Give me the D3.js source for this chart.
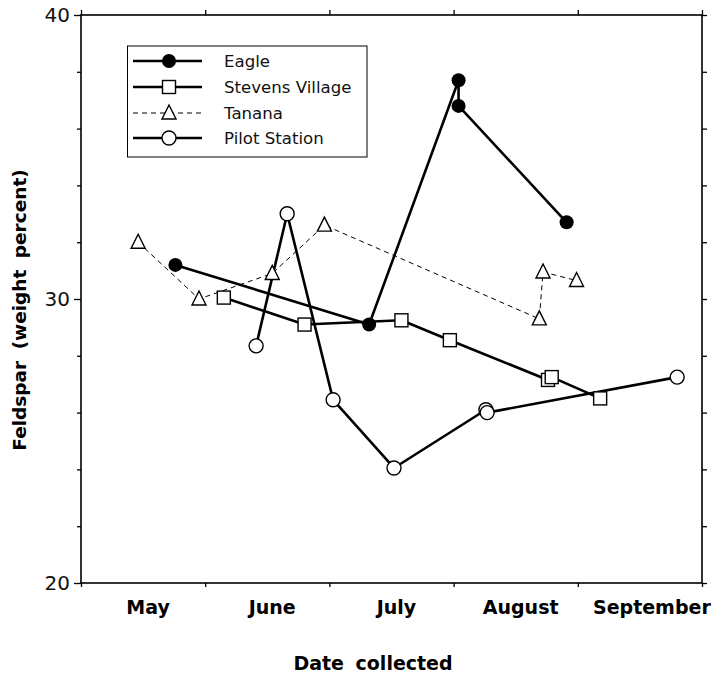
<!DOCTYPE html>
<html><head><meta charset="utf-8">
<script src="https://cdn.jsdelivr.net/npm/d3@7"></script>
<style>body{margin:0;background:#fff}svg{display:block}</style>
</head><body>
<script>
// x values: months elapsed since 1 May (0 = 1 May, 1 = 1 June, ...)
const monthLabels = ["May", "June", "July", "August", "September"];
const monthTicks = [0, 1, 2, 3, 4, 5];
const yTicks = [20, 30, 40];
const yMinorTicks = [22, 24, 26, 28, 32, 34, 36, 38];

const eagleX = [0.76, 2.32, 3.04, 3.04, 3.91];
const eagleY = [31.2, 29.1, 37.7, 36.8, 32.7];

const stevensX = [1.15, 1.80, 2.58, 2.97, 3.76, 3.79, 4.18];
const stevensY = [30.05, 29.1, 29.25, 28.55, 27.15, 27.25, 26.5];

const tananaX = [0.46, 0.95, 1.54, 1.96, 3.69, 3.72, 3.99];
const tananaY = [32.0, 30.0, 30.9, 32.6, 29.3, 30.95, 30.65];

const pilotX = [1.41, 1.66, 2.03, 2.52, 3.26, 3.27, 4.80];
const pilotY = [28.35, 33.0, 26.45, 24.05, 26.1, 26.0, 27.25];

const seriesNames = ["Eagle", "Stevens Village", "Tanana", "Pilot Station"];

const W = 715, H = 681;
const L = 81, R = 702, T = 15, B = 583;
const svg = d3.select("body").append("svg").attr("width", W).attr("height", H);

const x = d3.scaleLinear().domain([0, 5]).range([L, R]);
const y = d3.scaleLinear().domain([20, 40]).range([B, T]);

const font = "'DejaVu Sans', Verdana, sans-serif";

// frame axes
const axL = svg.append("g").attr("transform", `translate(${L},0)`)
  .call(d3.axisLeft(y).tickValues(yTicks).tickSize(7).tickFormat(d3.format("d")).tickPadding(4));
svg.append("g").attr("transform", `translate(${L},0)`)
  .call(d3.axisLeft(y).tickValues(yMinorTicks).tickSize(4).tickFormat(""));
svg.append("g").attr("transform", `translate(${R},0)`)
  .call(d3.axisRight(y).tickValues(yTicks.concat(yMinorTicks)).tickSize(5).tickFormat(""));
svg.append("g").attr("transform", `translate(0,${B})`)
  .call(d3.axisBottom(x).tickValues(monthTicks).tickSize(4).tickFormat(""));
svg.append("g").attr("transform", `translate(0,${T})`)
  .call(d3.axisTop(x).tickValues(monthTicks).tickSize(5).tickFormat(""));
svg.selectAll(".domain").remove();
svg.selectAll(".tick line").attr("stroke", "#000").attr("stroke-width", 1.3);
axL.selectAll("text").attr("font-family", font).attr("font-size", 20).attr("fill", "#111");

svg.append("rect").attr("x", L).attr("y", T).attr("width", R - L).attr("height", B - T)
  .attr("fill", "none").attr("stroke", "#000").attr("stroke-width", 1.6);

// month labels between ticks
svg.append("g").selectAll("text").data(monthLabels).join("text")
  .attr("x", (d, i) => x(i + 0.54) + (i === 4 ? 7 : 0))
  .attr("y", 614)
  .attr("text-anchor", "middle")
  .attr("font-family", font).attr("font-weight", "bold").attr("font-size", 19)
  .text(d => d);

svg.append("text").attr("x", 373).attr("y", 670).attr("text-anchor", "middle")
  .attr("font-family", font).attr("font-weight", "bold").attr("font-size", 19)
  .attr("word-spacing", 5)
  .text("Date collected");

svg.append("text").attr("transform", "translate(26,310) rotate(-90)").attr("text-anchor", "middle")
  .attr("font-family", font).attr("font-weight", "bold").attr("font-size", 18.5)
  .attr("word-spacing", 5)
  .text("Feldspar (weight percent)");

const series = [
  {xs: eagleX, ys: eagleY, marker: "circleFill", dash: null, w: 2.6},
  {xs: stevensX, ys: stevensY, marker: "square", dash: null, w: 2.6},
  {xs: tananaX, ys: tananaY, marker: "triangle", dash: "5,4", w: 1},
  {xs: pilotX, ys: pilotY, marker: "circle", dash: null, w: 2.6}
];

const line = d3.line().x(d => x(d[0])).y(d => y(d[1]));

function drawMarker(g, type, cx, cy) {
  if (type === "circleFill") {
    g.append("circle").attr("cx", cx).attr("cy", cy).attr("r", 7).attr("fill", "#000");
  } else if (type === "circle") {
    g.append("circle").attr("cx", cx).attr("cy", cy).attr("r", 7)
      .attr("fill", "#fff").attr("stroke", "#000").attr("stroke-width", 1.4);
  } else if (type === "square") {
    g.append("rect").attr("x", cx - 6.5).attr("y", cy - 6.5).attr("width", 13).attr("height", 13)
      .attr("fill", "#fff").attr("stroke", "#000").attr("stroke-width", 1.4);
  } else if (type === "triangle") {
    const s = 7;
    g.append("path").attr("d", `M${cx},${cy - s - 1}L${cx + s},${cy + s - 1}L${cx - s},${cy + s - 1}Z`)
      .attr("fill", "#fff").attr("stroke", "#000").attr("stroke-width", 1.4);
  }
}

const gl = svg.append("g");
series.forEach(s => {
  const pts = s.xs.map((v, i) => [v, s.ys[i]]);
  gl.append("path").attr("d", line(pts)).attr("fill", "none").attr("stroke", "#000")
    .attr("stroke-width", s.w).attr("stroke-dasharray", s.dash).attr("stroke-linejoin", "round");
});
const gm = svg.append("g");
series.forEach(s => {
  s.xs.forEach((v, i) => drawMarker(gm, s.marker, x(v), y(s.ys[i])));
});

// legend
const lg = svg.append("g");
lg.append("rect").attr("x", 127.5).attr("y", 46).attr("width", 239.5).attr("height", 111)
  .attr("fill", "#fff").attr("stroke", "#000").attr("stroke-width", 1);
const legY = [61, 87, 113, 138];
series.forEach((s, i) => {
  lg.append("line").attr("x1", 133).attr("x2", 202).attr("y1", legY[i]).attr("y2", legY[i])
    .attr("stroke", "#000").attr("stroke-width", s.w === 1 ? 1 : 2.6).attr("stroke-dasharray", s.dash);
  drawMarker(lg, s.marker, 169, legY[i]);
  lg.append("text").attr("x", 224).attr("y", legY[i] + 6).attr("font-family", font)
    .attr("font-size", 16.6).attr("fill", "#111").text(seriesNames[i]);
});
</script>
</body></html>
